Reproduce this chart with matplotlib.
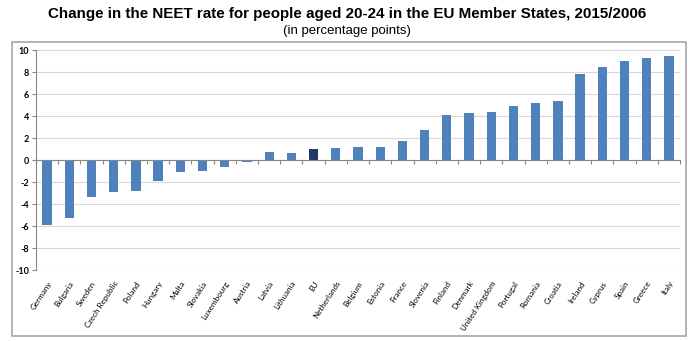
import matplotlib
matplotlib.use("Agg")
import matplotlib.pyplot as plt
from matplotlib.patches import Rectangle
import numpy as np

countries = ["Germany", "Bulgaria", "Sweden", "Czech Republic", "Poland", "Hungary",
             "Malta", "Slovakia", "Luxembourg", "Austria", "Latvia", "Lithuania", "EU",
             "Netherlands", "Belgium", "Estonia", "France", "Slovenia", "Finland",
             "Denmark", "United Kingdom", "Portugal", "Romania", "Croatia", "Ireland",
             "Cyprus", "Spain", "Greece", "Italy"]
values = [-5.9, -5.3, -3.4, -2.9, -2.8, -1.9, -1.1, -1.0, -0.6, -0.2, 0.7, 0.65, 1.0,
          1.1, 1.2, 1.2, 1.7, 2.7, 4.1, 4.3, 4.4, 4.9, 5.2, 5.4, 7.8, 8.5, 9.0, 9.3, 9.5]
yticks = [-10, -8, -6, -4, -2, 0, 2, 4, 6, 8, 10]

W, H = 694, 341
fig = plt.figure(figsize=(W / 100, H / 100), dpi=100)

# outer frame
fig.patches.append(Rectangle((12 / W, 1 - 336 / H), 674 / W, 294 / H,
                             transform=fig.transFigure, fill=False,
                             edgecolor="#a6a6a6", linewidth=1.2))

fig.text(0.5, 1 - 14 / H, "Change in the NEET rate for people aged 20-24 in the EU Member States, 2015/2006",
         ha="center", va="center", fontsize=10.9, fontweight="bold", family="Liberation Sans")
fig.text(0.5, 1 - 31 / H, "(in percentage points)", ha="center", va="center",
         fontsize=9.5, family="Liberation Sans")

ax = fig.add_axes([36 / W, 1 - 270 / H, 644 / W, 220 / H])
x = np.arange(len(countries))
colors = ["#1f3864" if c == "EU" else "#4f81bd" for c in countries]
ax.bar(x, values, width=0.42, color=colors, zorder=3)

ax.set_xlim(-0.5, len(countries) - 0.5)
ax.set_ylim(-10, 10)
ax.set_yticks(yticks)
ax.set_yticklabels([str(v) for v in yticks], fontsize=6.5, fontweight="bold", family="Lato")
ax.yaxis.grid(True, color="#d9d9d9", linewidth=0.8, zorder=0)
ax.tick_params(axis="y", length=3, color="#868686", pad=2)

for s in ["top", "right"]:
    ax.spines[s].set_visible(False)
ax.spines["left"].set_color("#868686")
ax.spines["bottom"].set_position(("data", 0))
ax.spines["bottom"].set_color("#868686")
ax.spines["bottom"].set_zorder(4)

ax.set_xticks(np.arange(-0.5, len(countries), 1.0))
ax.set_xticklabels([])
ax.tick_params(axis="x", length=3, color="#868686", direction="out")

sec = ax.secondary_xaxis("bottom")
sec.set_xticks(x)
sec.set_xticklabels(countries, rotation=57, ha="right", va="top",
                    rotation_mode="anchor", fontsize=5.8, family="Lato")
sec.tick_params(length=0, pad=7)
sec.spines["bottom"].set_visible(False)

fig.savefig("out.png", dpi=100)
